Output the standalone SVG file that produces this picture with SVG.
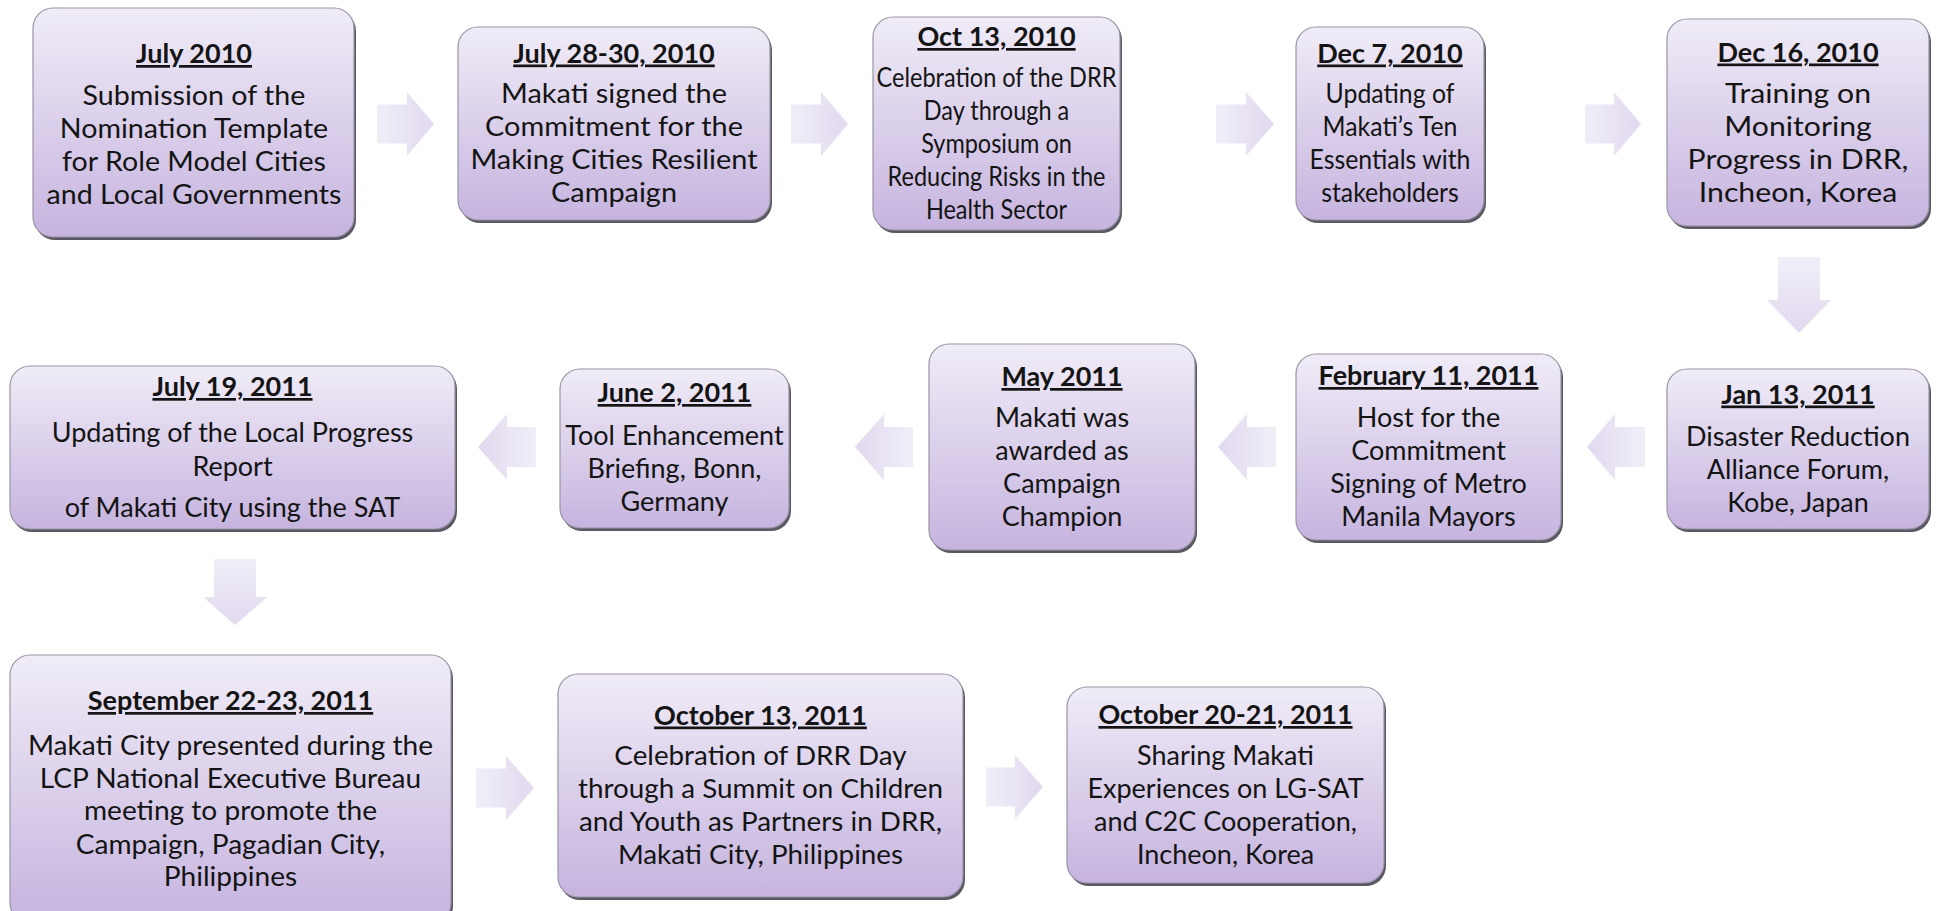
<svg xmlns="http://www.w3.org/2000/svg" width="1939" height="911" viewBox="0 0 1939 911">
<defs>
<linearGradient id="gBox" x1="0" y1="0" x2="0" y2="1">
<stop offset="0" stop-color="#f0ecf7"/>
<stop offset="1" stop-color="#c6b4df"/>
</linearGradient>
<linearGradient id="gR" x1="0" y1="0" x2="1" y2="0">
<stop offset="0" stop-color="#f1eef8"/>
<stop offset="1" stop-color="#e1d9ef"/>
</linearGradient>
<linearGradient id="gL" x1="1" y1="0" x2="0" y2="0">
<stop offset="0" stop-color="#f1eef8"/>
<stop offset="1" stop-color="#e1d9ef"/>
</linearGradient>
<linearGradient id="gD" x1="0" y1="0" x2="0" y2="1">
<stop offset="0" stop-color="#f1eef8"/>
<stop offset="1" stop-color="#e1d9ef"/>
</linearGradient>
<style>
.sh{fill:#5a5862;}
.bx{fill:url(#gBox);stroke:#9a93a6;stroke-width:1.2;}
text{font-family:Lato,"Liberation Sans",sans-serif;font-size:27px;fill:#141414;text-anchor:middle;}
.h{font-weight:bold;text-decoration:underline;}
.ar{fill:url(#gR);}
.al{fill:url(#gL);}
.ad{fill:url(#gD);}
</style>
</defs>
<rect width="1939" height="911" fill="#ffffff"/>
<g id="connectors">
<path class="ar" d="M377,104.5 H407 V92 L434,124 L407,156 V143.5 H377 Z"/>
<path class="ar" d="M791,104.5 H821 V92 L848,124 L821,156 V143.5 H791 Z"/>
<path class="ar" d="M1216,104.5 H1246 V92 L1274,124 L1246,156 V143.5 H1216 Z"/>
<path class="ar" d="M1585,104.5 H1614 V92 L1641,124 L1614,156 V143.5 H1585 Z"/>
<path class="ad" d="M1778,257 H1820 V300 H1831 L1799,333 L1767,300 H1778 Z"/>
<path class="al" d="M1645,427 H1615 V414 L1587,447 L1615,480 V467 H1645 Z"/>
<path class="al" d="M1276,427 H1247 V414 L1218,447 L1247,480 V467 H1276 Z"/>
<path class="al" d="M913,427 H884 V414 L855,447 L884,480 V467 H913 Z"/>
<path class="al" d="M536,427 H507 V414 L478,447 L507,480 V467 H536 Z"/>
<path class="ad" d="M214,559 H256 V597 H267 L235,625 L203,597 H214 Z"/>
<path class="ar" d="M476,768.5 H506 V756 L534,788 L506,820 V807.5 H476 Z"/>
<path class="ar" d="M986,767.5 H1015 V755 L1043,787 L1015,819 V806.5 H986 Z"/>
</g>
<g id="n1">
<rect class="sh" x="35" y="11" width="321" height="229" rx="20"/>
<rect class="bx" x="33" y="8" width="321" height="229" rx="20"/>
<text class="h" x="194" y="63">July 2010</text>
<g transform="translate(194,0) scale(1.06,1) translate(-194,0)">
<text x="194" y="105">Submission of the</text>
<text x="194" y="138">Nomination Template</text>
<text x="194" y="171">for Role Model Cities</text>
<text x="194" y="204">and Local Governments</text>
</g>
</g>
<g id="n2">
<rect class="sh" x="460" y="30" width="312" height="193" rx="20"/>
<rect class="bx" x="458" y="27" width="312" height="193" rx="20"/>
<text class="h" x="614" y="62.5">July 28-30, 2010</text>
<g transform="translate(614,0) scale(1.07,1) translate(-614,0)">
<text x="614" y="103.5">Makati signed the</text>
<text x="614" y="136.5">Commitment for the</text>
<text x="614" y="169.5">Making Cities Resilient</text>
<text x="614" y="202.5">Campaign</text>
</g>
</g>
<g id="n3">
<rect class="sh" x="875" y="20" width="247" height="213" rx="20"/>
<rect class="bx" x="873" y="17" width="247" height="213" rx="20"/>
<text class="h" x="996.5" y="46">Oct 13, 2010</text>
<g transform="translate(996.5,0) scale(0.87,1) translate(-996.5,0)">
<text x="996.5" y="87">Celebration of the DRR</text>
<text x="996.5" y="120">Day through a</text>
<text x="996.5" y="153">Symposium on</text>
<text x="996.5" y="186">Reducing Risks in the</text>
<text x="996.5" y="219">Health Sector</text>
</g>
</g>
<g id="n4">
<rect class="sh" x="1298" y="30" width="188" height="193" rx="20"/>
<rect class="bx" x="1296" y="27" width="188" height="193" rx="20"/>
<text class="h" x="1390" y="62.5">Dec 7, 2010</text>
<g transform="translate(1390,0) scale(0.92,1) translate(-1390,0)">
<text x="1390" y="103.5">Updating of</text>
<text x="1390" y="136.5">Makati’s Ten</text>
<text x="1390" y="169.5">Essentials with</text>
<text x="1390" y="202.5">stakeholders</text>
</g>
</g>
<g id="n5">
<rect class="sh" x="1669" y="22" width="262" height="207" rx="20"/>
<rect class="bx" x="1667" y="19" width="262" height="207" rx="20"/>
<text class="h" x="1798" y="61.5">Dec 16, 2010</text>
<g transform="translate(1798,0) scale(1.12,1) translate(-1798,0)">
<text x="1798" y="103.5">Training on</text>
<text x="1798" y="136.5">Monitoring</text>
<text x="1798" y="169.5">Progress in DRR,</text>
<text x="1798" y="202.5">Incheon, Korea</text>
</g>
</g>
<g id="n6">
<rect class="sh" x="1669" y="372" width="262" height="160" rx="20"/>
<rect class="bx" x="1667" y="369" width="262" height="160" rx="20"/>
<text class="h" x="1798" y="403.5">Jan 13, 2011</text>
<text x="1798" y="445.5">Disaster Reduction</text>
<text x="1798" y="478.5">Alliance Forum,</text>
<text x="1798" y="511.5">Kobe, Japan</text>
</g>
<g id="n7">
<rect class="sh" x="1298" y="357" width="265" height="186" rx="20"/>
<rect class="bx" x="1296" y="354" width="265" height="186" rx="20"/>
<text class="h" x="1428.5" y="385">February 11, 2011</text>
<text x="1428.5" y="427">Host for the</text>
<text x="1428.5" y="460">Commitment</text>
<text x="1428.5" y="493">Signing of Metro</text>
<text x="1428.5" y="526">Manila Mayors</text>
</g>
<g id="n8">
<rect class="sh" x="931" y="347" width="266" height="206" rx="20"/>
<rect class="bx" x="929" y="344" width="266" height="206" rx="20"/>
<text class="h" x="1062" y="386">May 2011</text>
<text x="1062" y="427">Makati was</text>
<text x="1062" y="460">awarded as</text>
<text x="1062" y="493">Campaign</text>
<text x="1062" y="526">Champion</text>
</g>
<g id="n9">
<rect class="sh" x="562" y="372" width="229" height="159" rx="20"/>
<rect class="bx" x="560" y="369" width="229" height="159" rx="20"/>
<text class="h" x="674.5" y="402">June 2, 2011</text>
<text x="674.5" y="445">Tool Enhancement</text>
<text x="674.5" y="478">Briefing, Bonn,</text>
<text x="674.5" y="511">Germany</text>
</g>
<g id="n10">
<rect class="sh" x="12" y="369" width="445" height="163" rx="20"/>
<rect class="bx" x="10" y="366" width="445" height="163" rx="20"/>
<text class="h" x="232.5" y="396">July 19, 2011</text>
<text x="232.5" y="442">Updating of the Local Progress</text>
<text x="232.5" y="476">Report</text>
<text x="232.5" y="517">of Makati City using the SAT</text>
</g>
<g id="n11">
<rect class="sh" x="12" y="658" width="441" height="268" rx="20"/>
<rect class="bx" x="10" y="655" width="441" height="268" rx="20"/>
<text class="h" x="230.5" y="710">September 22-23, 2011</text>
<g transform="translate(230.5,0) scale(1.04,1) translate(-230.5,0)">
<text x="230.5" y="755">Makati City presented during the</text>
<text x="230.5" y="788">LCP National Executive Bureau</text>
<text x="230.5" y="820">meeting to promote the</text>
<text x="230.5" y="854">Campaign, Pagadian City,</text>
<text x="230.5" y="886">Philippines</text>
</g>
</g>
<g id="n12">
<rect class="sh" x="560" y="677" width="405" height="223" rx="20"/>
<rect class="bx" x="558" y="674" width="405" height="223" rx="20"/>
<text class="h" x="760.5" y="724.5">October 13, 2011</text>
<g transform="translate(760.5,0) scale(1.03,1) translate(-760.5,0)">
<text x="760.5" y="765.5">Celebration of DRR Day</text>
<text x="760.5" y="798.5">through a Summit on Children</text>
<text x="760.5" y="831.5">and Youth as Partners in DRR,</text>
<text x="760.5" y="864.5">Makati City, Philippines</text>
</g>
</g>
<g id="n13">
<rect class="sh" x="1069" y="690" width="317" height="196" rx="20"/>
<rect class="bx" x="1067" y="687" width="317" height="196" rx="20"/>
<text class="h" x="1225.5" y="724">October 20-21, 2011</text>
<text x="1225.5" y="765">Sharing Makati</text>
<text x="1225.5" y="798">Experiences on LG-SAT</text>
<text x="1225.5" y="831">and C2C Cooperation,</text>
<text x="1225.5" y="864">Incheon, Korea</text>
</g>
</svg>
